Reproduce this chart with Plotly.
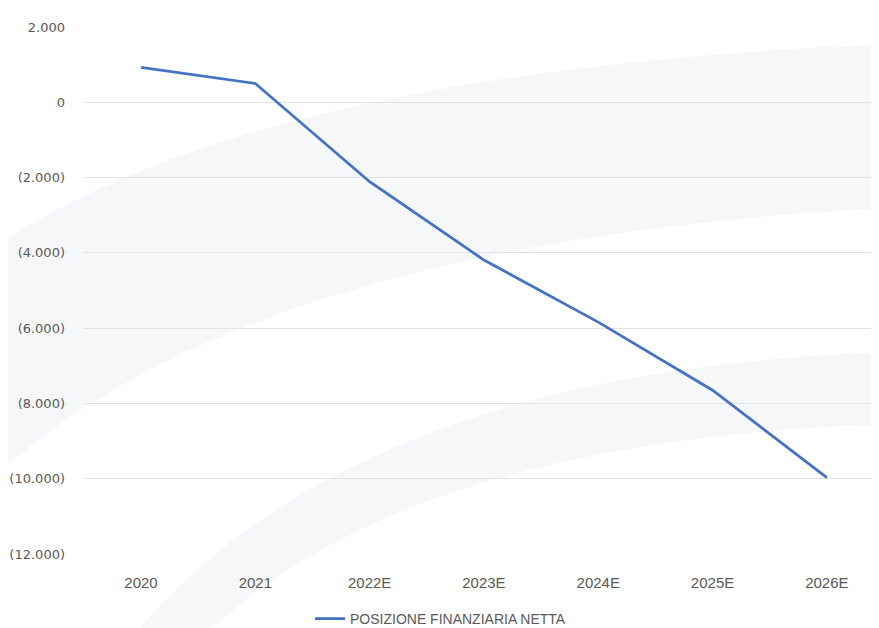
import plotly.graph_objects as go

categories = ["2020", "2021", "2022E", "2023E", "2024E", "2025E", "2026E"]
pfn_values = [930, 500, -2110, -4190, -5840, -7650, -9970]
y_tick_vals = [2000, 0, -2000, -4000, -6000, -8000, -10000, -12000]
y_tick_text = ["2.000", "0", "(2.000)", "(4.000)", "(6.000)", "(8.000)", "(10.000)", "(12.000)"]
series_name = "POSIZIONE FINANZIARIA NETTA"

# page has an 8px body margin; figure occupies (8,8)-(879,628)
OFF = 8
W, H = 879 - OFF, 628 - OFF
ML, MR, MT, MB = 84 - OFF, 0, 27 - OFF, 628 - 554
PW, PH = W - ML - MR, H - MT - MB


def pp(px, py):
    # page pixel -> paper coords
    return (px - OFF - ML) / PW, (OFF + H - MB - py) / PH


def path(points):
    s = ""
    for cmd, *pts in points:
        s += cmd
        for (px, py) in pts:
            x, y = pp(px, py)
            s += f" {x:.4f},{y:.4f}"
        s += " "
    return s + "Z"


swoosh1 = path([
    ("M", (-10, 250)),
    ("Q", (250, 70), (890, 44)),
    ("L", (890, 208)),
    ("Q", (250, 240), (-10, 480)),
])
swoosh2 = path([
    ("M", (890, 352)),
    ("Q", (350, 370), (130, 640)),
    ("L", (200, 640)),
    ("Q", (400, 440), (890, 424)),
])

fig = go.Figure()
fig.add_trace(go.Scatter(
    x=categories, y=pfn_values, mode="lines", name=series_name,
    line=dict(color="#4472C4", width=2.75),
))

leg_x, _ = pp(310, 0)
fig.update_layout(
    width=W, height=H,
    margin=dict(l=ML, r=MR, t=MT, b=MB),
    paper_bgcolor="white", plot_bgcolor="rgba(0,0,0,0)",
    showlegend=True,
    legend=dict(orientation="h", x=leg_x, xanchor="left",
                yref="container", y=(628 - 619) / H, yanchor="middle",
                bgcolor="rgba(0,0,0,0)",
                font=dict(family="Liberation Sans, Arial, sans-serif", size=14, color="#595959")),
    shapes=[
        dict(type="path", xref="paper", yref="paper", path=swoosh1,
             fillcolor="#f1f3f5", line=dict(width=0), opacity=0.7, layer="below"),
        dict(type="path", xref="paper", yref="paper", path=swoosh2,
             fillcolor="#f1f3f5", line=dict(width=0), opacity=0.7, layer="below"),
    ],
)
fig.update_xaxes(
    type="category", range=[-0.4987, 6.456], showgrid=False, showline=False,
    zeroline=False, ticks="", ticklen=0,
    tickfont=dict(family="Liberation Sans, Arial, sans-serif", size=15, color="#595959"),
    ticklabelstandoff=18,
)
fig.update_yaxes(
    range=[-12000, 2000], tickvals=y_tick_vals, ticktext=y_tick_text,
    showgrid=True, gridcolor="#e2e2e2", gridwidth=1, zeroline=False, showline=False,
    tickfont=dict(family="DejaVu Sans, sans-serif", size=13, color="#595959"),
    ticklabelstandoff=18,
)

fig.write_html("out.html")
